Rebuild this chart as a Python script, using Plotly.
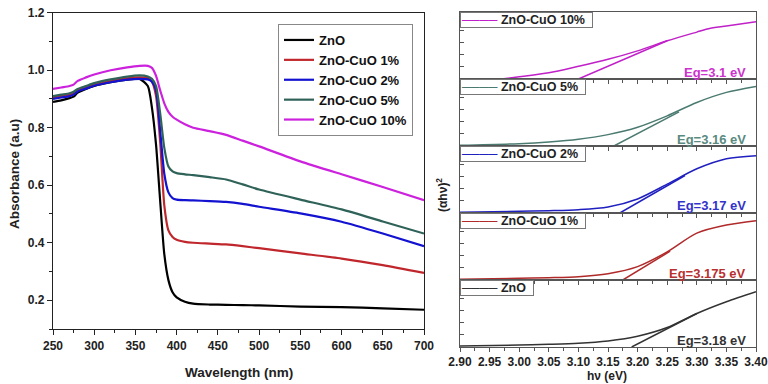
import plotly.graph_objects as go

# ---------------- Left panel data: UV-Vis absorbance ----------------
wavelength = [250, 260, 270, 275, 280, 290, 300, 320, 340, 355, 365, 370, 375, 380,
              385, 390, 395, 400, 410, 420, 440, 460, 480, 500, 550, 600, 650, 700]
abs_zno = [0.890, 0.895, 0.903, 0.908, 0.922, 0.935, 0.945, 0.958, 0.967, 0.970, 0.945, 0.870,
           0.740, 0.545, 0.360, 0.270, 0.228, 0.210, 0.195, 0.188, 0.185, 0.184, 0.183, 0.182,
           0.178, 0.176, 0.172, 0.167]
abs_1 = [0.905, 0.910, 0.915, 0.920, 0.930, 0.940, 0.950, 0.962, 0.972, 0.975, 0.972, 0.960,
         0.910, 0.750, 0.530, 0.443, 0.420, 0.410, 0.403, 0.400, 0.397, 0.394, 0.388, 0.381,
         0.363, 0.345, 0.322, 0.295]
abs_2 = [0.900, 0.905, 0.910, 0.915, 0.926, 0.936, 0.946, 0.958, 0.967, 0.970, 0.968, 0.960,
         0.930, 0.790, 0.640, 0.575, 0.555, 0.550, 0.548, 0.547, 0.545, 0.542, 0.535, 0.525,
         0.502, 0.473, 0.432, 0.388]
abs_5 = [0.910, 0.915, 0.920, 0.925, 0.935, 0.945, 0.955, 0.968, 0.978, 0.982, 0.978, 0.970,
         0.945, 0.850, 0.730, 0.665, 0.648, 0.642, 0.638, 0.635, 0.628, 0.620, 0.603, 0.585,
         0.550, 0.516, 0.474, 0.432]
abs_10 = [0.935, 0.940, 0.945, 0.950, 0.963, 0.975, 0.985, 1.000, 1.010, 1.015, 1.015, 1.008,
          0.980, 0.930, 0.885, 0.855, 0.838, 0.828, 0.812, 0.800, 0.788, 0.775, 0.755, 0.735,
          0.683, 0.638, 0.594, 0.548]

names = ["ZnO", "ZnO-CuO 1%", "ZnO-CuO 2%", "ZnO-CuO 5%", "ZnO-CuO 10%"]
left_colors = ["#000000", "#c0272d", "#1212d0", "#2f6258", "#cc22dd"]

# ---------------- Right panel data: Tauc plots (top -> bottom) ----------------
tauc_names = ["ZnO-CuO 10%", "ZnO-CuO 5%", "ZnO-CuO 2%", "ZnO-CuO 1%", "ZnO"]
tauc_hv = [
    [2.97, 3.00, 3.05, 3.10, 3.15, 3.20, 3.25, 3.30, 3.32, 3.35, 3.40],
    [2.90, 3.00, 3.05, 3.10, 3.15, 3.20, 3.25, 3.30, 3.35, 3.40],
    [2.90, 3.00, 3.05, 3.10, 3.15, 3.20, 3.25, 3.30, 3.35, 3.40],
    [2.90, 3.00, 3.05, 3.10, 3.15, 3.20, 3.25, 3.30, 3.35, 3.40],
    [2.90, 3.00, 3.05, 3.10, 3.15, 3.20, 3.25, 3.30, 3.35, 3.40],
]
tauc_y = [
    [0.0, 0.034, 0.094, 0.19, 0.294, 0.42, 0.57, 0.70, 0.75, 0.79, 0.855],
    [0.01, 0.035, 0.06, 0.10, 0.17, 0.28, 0.45, 0.65, 0.80, 0.89],
    [0.01, 0.025, 0.035, 0.05, 0.09, 0.21, 0.43, 0.66, 0.81, 0.855],
    [0.01, 0.025, 0.035, 0.05, 0.095, 0.20, 0.42, 0.70, 0.82, 0.885],
    [0.015, 0.03, 0.04, 0.055, 0.09, 0.16, 0.29, 0.50, 0.675, 0.825],
]
# tangent (extrapolation) lines: start at (Eg, 0), end at (x_end, y_end)
tan_x0 = [3.10, 3.16, 3.17, 3.175, 3.19]
tan_x1 = [3.25, 3.27, 3.28, 3.255, 3.30]
tan_y1 = [0.57, 0.51, 0.56, 0.43, 0.50]
eg_labels = ["Eg=3.1 eV", "Eg=3.16 eV", "Eg=3.17 eV", "Eg=3.175 eV", "Eg=3.18 eV"]
tauc_colors = ["#c020c8", "#4a7a70", "#2020c0", "#b02a2a", "#333333"]
eg_colors = ["#cc33cc", "#5a8a80", "#3333cc", "#b83030", "#333333"]
hv_ticks = [2.90, 2.95, 3.00, 3.05, 3.10, 3.15, 3.20, 3.25, 3.30, 3.35, 3.40]

W, H = 768, 384
FONT = "Liberation Sans, Arial, sans-serif"

fig = go.Figure()

# left panel traces
for name, ys, c in zip(names, [abs_zno, abs_1, abs_2, abs_5, abs_10], left_colors):
    fig.add_trace(go.Scatter(x=wavelength, y=ys, mode="lines", name=name,
                             line=dict(color=c, width=2.2, shape="spline", smoothing=0.6),
                             xaxis="x", yaxis="y", showlegend=True))

# right panels
for i in range(5):
    ax = str(i + 2)
    fig.add_trace(go.Scatter(x=tauc_hv[i], y=tauc_y[i], mode="lines",
                             line=dict(color=tauc_colors[i], width=1.5, shape="spline", smoothing=0.8),
                             xaxis="x" + ax, yaxis="y" + ax, showlegend=False))
    fig.add_trace(go.Scatter(x=[tan_x0[i], tan_x1[i]], y=[0, tan_y1[i]], mode="lines",
                             line=dict(color=tauc_colors[i], width=1.5),
                             xaxis="x" + ax, yaxis="y" + ax, showlegend=False))

def px_x(p):
    return p / W

def px_y(p):
    return (H - p) / H

layout = dict(
    width=W, height=H, margin=dict(l=0, r=0, t=0, b=0, autoexpand=False),
    paper_bgcolor="white", plot_bgcolor="white",
    font=dict(family=FONT, color="#222"),
    legend=dict(x=px_x(278), y=px_y(24), xanchor="left", yanchor="top",
                bordercolor="#888", borderwidth=1, bgcolor="white",
                font=dict(size=13, family=FONT, color="#111", weight="bold"),
                tracegroupgap=0, itemwidth=30),
    xaxis=dict(domain=[px_x(53), px_x(424)], range=[250, 700], dtick=50,
               showline=True, linecolor="#222", linewidth=1.2, mirror=True,
               ticks="outside", ticklen=5, tickcolor="#222",
               minor=dict(dtick=25, ticks="outside", ticklen=3, tickcolor="#222"),
               showgrid=False, zeroline=False, automargin=False,
               tickfont=dict(size=12, family=FONT, weight="bold", color="#222"),
               anchor="y"),
    yaxis=dict(domain=[px_y(329), px_y(12.7)], range=[0.1, 1.2], dtick=0.2, tick0=0.2,
               tickformat=".1f",
               showline=True, linecolor="#222", linewidth=1.2, mirror=True,
               ticks="outside", ticklen=5, tickcolor="#222",
               minor=dict(dtick=0.1, ticks="outside", ticklen=3, tickcolor="#222"),
               showgrid=False, zeroline=False, automargin=False,
               tickfont=dict(size=12, family=FONT, weight="bold", color="#222"),
               anchor="x"),
)

annotations = []
for i in range(5):
    ax = str(i + 2)
    top = 12 + 67 * i
    bot = top + 67
    layout["xaxis" + ax] = dict(
        domain=[px_x(460), px_x(756)], range=[2.9, 3.4],
        tickvals=hv_ticks, tickformat=".2f", ticklabeloverflow="allow",
        showticklabels=(i == 4),
        showline=True, linecolor="#555", linewidth=1, mirror=True,
        ticks="outside", ticklen=4, tickcolor="#555",
        minor=dict(dtick=0.025, tick0=2.9, ticks="outside", ticklen=2.5, tickcolor="#555"),
        showgrid=False, zeroline=False, automargin=False,
        tickfont=dict(size=12, family=FONT, weight="bold", color="#222"),
        anchor="y" + ax,
    )
    layout["yaxis" + ax] = dict(
        domain=[px_y(bot), px_y(top)], range=[0, 1], tick0=0, dtick=0.18,
        showticklabels=False,
        showline=True, linecolor="#555", linewidth=1, mirror=True,
        ticks="inside", ticklen=4, tickcolor="#555",
        showgrid=False, zeroline=False, automargin=False, anchor="x" + ax,
    )
    # legend-like box per panel
    annotations.append(dict(
        xref="paper", yref="paper", x=px_x(460), y=px_y(top), xanchor="left", yanchor="top",
        text='<b><span style="color:%s">────</span> %s</b>  ' % (tauc_colors[i], tauc_names[i]),
        showarrow=False, bgcolor="white", bordercolor="#777", borderwidth=1, borderpad=0,
        font=dict(size=12.5, family=FONT, color="#222"),
    ))
    # band gap label
    annotations.append(dict(
        xref="paper", yref="paper", x=px_x(748), y=px_y(bot - 7), xanchor="right", yanchor="middle",
        text="<b>%s</b>" % eg_labels[i], showarrow=False,
        font=dict(size=13, family=FONT, color=eg_colors[i]),
    ))

# axis titles as annotations (exact placement)
annotations.append(dict(
    xref="paper", yref="paper", x=px_x(239), y=px_y(372), xanchor="center", yanchor="middle",
    text="<b>Wavelength (nm)</b>", showarrow=False,
    font=dict(size=13.5, family=FONT, color="#222"),
))
annotations.append(dict(
    xref="paper", yref="paper", x=px_x(14), y=px_y(174), xanchor="center", yanchor="middle",
    text="<b>Absorbance (a.u)</b>", textangle=-90, showarrow=False,
    font=dict(size=13.5, family=FONT, color="#222"),
))
annotations.append(dict(
    xref="paper", yref="paper", x=px_x(607), y=px_y(376), xanchor="center", yanchor="middle",
    text="<b>hν (eV)</b>", showarrow=False,
    font=dict(size=12, family=FONT, color="#222"),
))
annotations.append(dict(
    xref="paper", yref="paper", x=px_x(442), y=px_y(195), xanchor="center", yanchor="middle",
    text="<b>(αhν)<sup>2</sup></b>", textangle=-90, showarrow=False,
    font=dict(size=12, family=FONT, color="#222"),
))
layout["annotations"] = annotations

fig.update_layout(**layout)
fig.write_html("out.html", config={"displayModeBar": False},
               post_script="document.body.style.margin='0';document.body.style.overflow='hidden';")
